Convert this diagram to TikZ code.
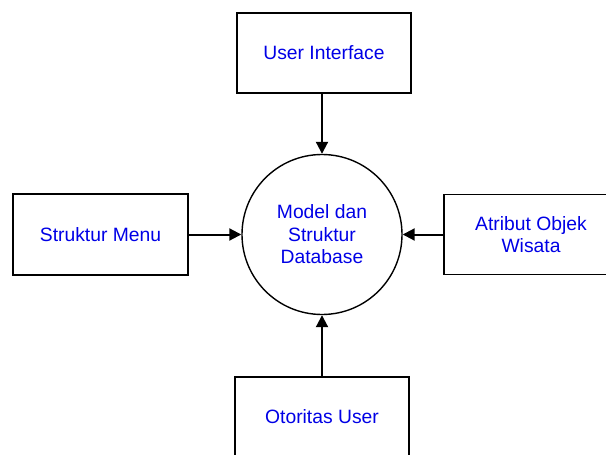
\documentclass[tikz,border=0pt]{standalone}
\usepackage{fontspec}
\setmainfont{Liberation Sans}
\usetikzlibrary{arrows.meta}
\definecolor{txtblue}{RGB}{0,0,230}
\begin{document}
\begin{tikzpicture}[x=1pt,y=-1pt,
  box/.style={draw,line width=1.4pt,minimum width=174pt,minimum height=80pt,inner sep=0pt,
    text=txtblue,align=center,font=\fontsize{19.3}{22.5}\selectfont},
  proc/.style={draw,circle,line width=1.4pt,minimum size=160pt,inner sep=0pt,
    text=txtblue,align=center,font=\fontsize{19.3}{22.5}\selectfont},
  flow/.style={line width=2pt,-{Triangle[length=12pt,width=12pt]}}]
\useasboundingbox (0,0) rectangle (606,455);
\clip (0,0) rectangle (606,455);
\node[proc] (c) at (322,234.5) {Model dan\\Struktur\\Database};
\node[box] (top) at (324,53) {User Interface};
\node[box,minimum width=175pt,minimum height=81pt] (left) at (100.5,234.5) {Struktur Menu};
\node[box] (right) at (531,234.5) {Atribut Objek\\Wisata};
\node[box] (bot) at (322,417) {Otoritas User};
\draw[flow] (top.south -| c) -- (c.north);
\draw[flow] (left.east) -- (c.west);
\draw[flow] (right.west) -- (c.east);
\draw[flow] (bot.north) -- (c.south);
\end{tikzpicture}
\end{document}
